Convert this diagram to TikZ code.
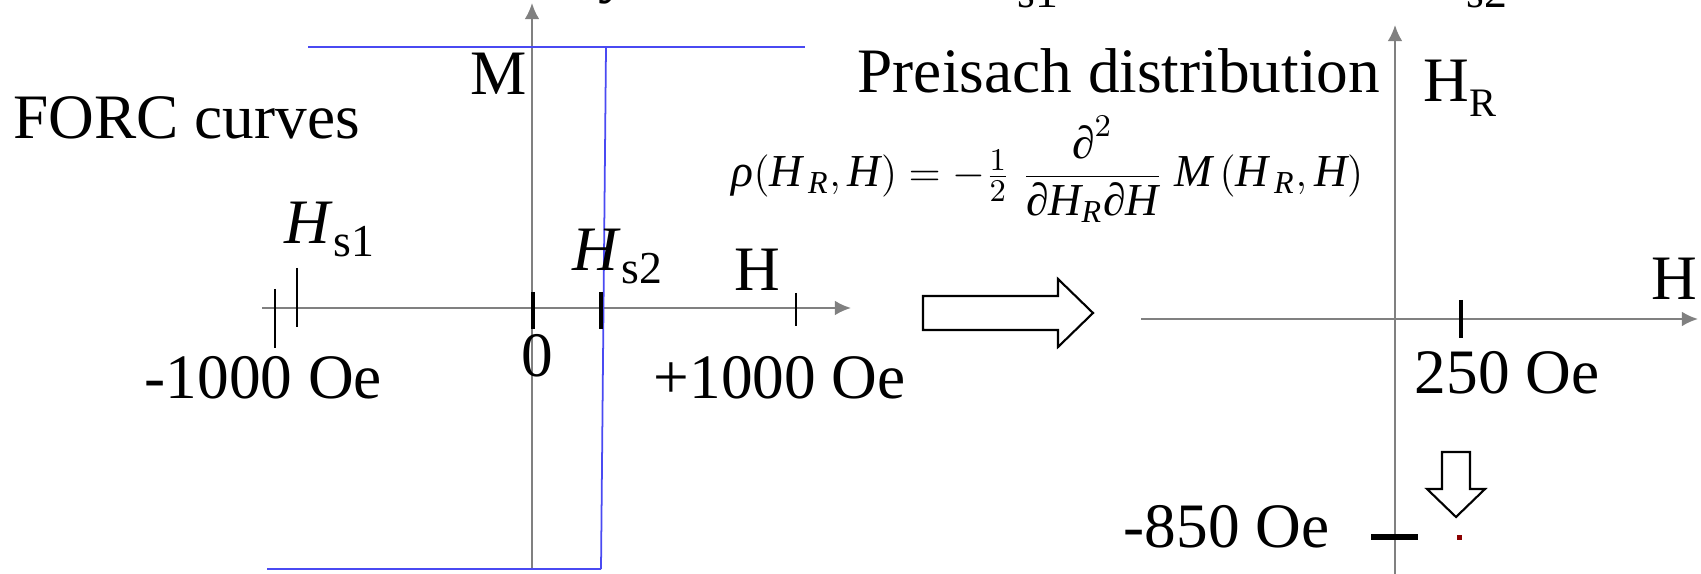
\documentclass[tikz,border=0pt]{standalone}
\usepackage{amsmath}
\usepackage{fontspec}
\setmainfont{Liberation Serif}
\usetikzlibrary{arrows.meta}
\definecolor{axisgray}{HTML}{808080}
\definecolor{hystblue}{HTML}{4A4AF2}
\definecolor{dotred}{HTML}{8B0000}
\newcommand{\Hsub}[1]{\textit{H}\raisebox{-0.13cm}{\fontsize{13}{13}\selectfont #1}}
\newcommand{\mi}[1]{\text{\itshape #1}}

\begin{document}
\begin{tikzpicture}[
  x=0.01cm, y=-0.01cm,
  axisline/.style={draw=axisgray, line width=0.6pt, -{Latex[length=4.6pt, width=4.2pt]}},
  hyst/.style={draw=hystblue, line width=0.5pt},
  thintick/.style={draw=black, line width=0.4pt},
  bigtick/.style={draw=black, line width=1.4pt},
  hollow/.style={draw=black, line width=0.6pt, fill=white, line join=miter},
  lbl/.style={font=\fontsize{18}{20}\selectfont, inner sep=0pt, anchor=base west},
  formula/.style={font=\fontsize{13}{15}\selectfont, inner sep=0pt, anchor=base west}
]
\useasboundingbox (0,0) rectangle (1701,574);

% Cut-off title line above the page
\node[lbl] (topy) at (598,-9) {y};
\node[lbl] (tophs1) at (968,-5) {\Hsub{s1}};
\node[lbl] (tophs2) at (1417,-5) {\Hsub{s2}};

% FORC curves: axes
\coordinate (hstart) at (262,308);
\coordinate (hend) at (851,308);
\coordinate (mstart) at (532,569);
\coordinate (mend) at (532,3);
\draw[axisline] (hstart) -- (hend);
\draw[axisline] (mstart) -- (mend);

% hysteresis loop
\coordinate (topleft) at (308,47);
\coordinate (topright) at (805,47);
\coordinate (jumptop) at (606,47);
\coordinate (jumpbot) at (601,569);
\coordinate (botleft) at (267,569);
\draw[hyst] (topleft) -- (topright);
\draw[hyst] (jumptop) -- (jumpbot);
\draw[hyst] (botleft) -- (jumpbot);

% ticks on H
\draw[thintick] (275,289) -- (275,348);
\draw[thintick] (297,268) -- (297,327);
\draw[bigtick] (533,292) -- (533,329);
\draw[bigtick] (601,292) -- (601,329);
\draw[thintick] (796,293) -- (796,326);

\node[lbl] (forc) at (13,139) {FORC curves};
\node[lbl] (mlabel) at (470,95) {M};
\node[lbl] (hs1) at (284,244) {\Hsub{s1}};
\node[lbl] (hs2) at (572,271) {\Hsub{s2}};
\node[lbl] (hleft) at (734,291) {H};
\node[lbl] (mthousand) at (144,399) {-1000 Oe};
\node[lbl] (zero) at (521,377) {0};
\node[lbl] (pthousand) at (653,399) {+1000 Oe};

% block arrow to the distribution
\draw[hollow] (923,296) -- (1058,296) -- (1058,279) -- (1093,313)
  -- (1058,347) -- (1058,330) -- (923,330) -- cycle;

% Preisach distribution
\node[lbl] (preisach) at (857,93) {Preisach distribution};
\node[formula] (rho) at (731,187)
  {$\mi{ρ}(\mi{H}_{\,\mi{R}},\mi{H})=-\tfrac{1}{2}\;\dfrac{\mi{∂}^{2}}{\mi{∂H}_{\mi{R}}\mi{∂H}}\;\mi{M}\,(\mi{H}_{\,\mi{R}},\mi{H})$};

\coordinate (hrstart) at (1395,574);
\coordinate (hrend) at (1395,25);
\coordinate (hbstart) at (1141,319);
\coordinate (hbend) at (1698,319);
\draw[axisline] (hbstart) -- (hbend);
\draw[axisline] (hrstart) -- (hrend);

\node[lbl] (hrlabel) at (1423,102) {H\raisebox{-0.15cm}{\fontsize{11.5}{12}\selectfont R}};
\node[lbl] (hright) at (1651,300) {H};

\draw[bigtick] (1461,300) -- (1461,338);
\node[lbl] (twofifty) at (1414,394) {250 Oe};

% peak position
\draw[hollow] (1442,452) -- (1470,452) -- (1470,489) -- (1485,489)
  -- (1456,517) -- (1427,489) -- (1442,489) -- cycle;
\draw[draw=black, line width=1.7pt] (1371,537) -- (1418,537);
\fill[dotred] (1457,535) rectangle (1462,540);
\node[lbl] (eightfifty) at (1123,548) {-850 Oe};

\end{tikzpicture}
\end{document}
